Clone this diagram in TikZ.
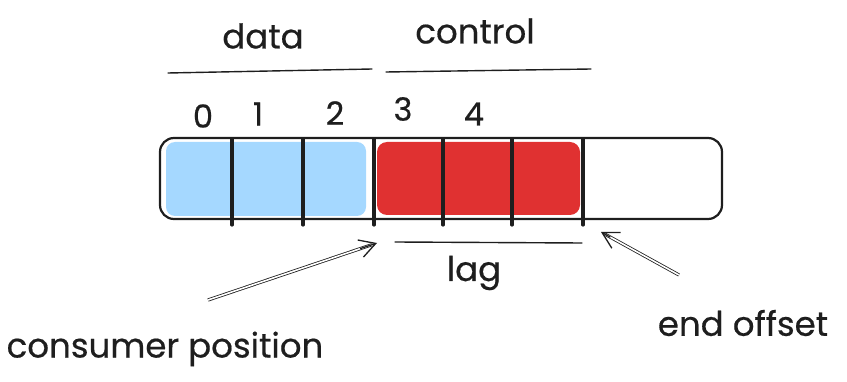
\documentclass[tikz,border=0pt]{standalone}
\usepackage{fontspec}
\setmainfont{Poppins}[FakeBold=0.5]
\usetikzlibrary{arrows.meta,calc}
\definecolor{ink}{HTML}{1E1E1E}
\definecolor{cblue}{HTML}{A5D8FF}
\definecolor{cred}{HTML}{E03131}
\tikzset{
  lbl/.style={font=\fontsize{34}{40}\selectfont, text=ink, inner sep=0pt},
  num/.style={font=\fontsize{32}{38}\selectfont, text=ink, inner sep=0pt},
  cell/.style={line width=3.2pt, draw=ink, line cap=round},
  rule/.style={line width=1.4pt, draw=ink, line cap=round},
  shaft/.style={double=white, double distance=1.6pt, line width=0.8pt, draw=ink},
  head/.style={draw=ink, line width=1.3pt, -{Straight Barb[length=16pt,width=18pt,line width=1.3pt]}}
}
\begin{document}
\begin{tikzpicture}[x=1pt,y=-1pt]
\useasboundingbox (0,0) rectangle (847,382);
% fills
\fill[cblue, rounded corners=9pt] (166,142) rectangle (366,216);
\fill[cred, rounded corners=10pt] (377,142) rectangle (580,215);
% outer box
\draw[ink, line width=2.2pt, rounded corners=14pt] (160,138) rectangle (722,219);
% cell separators
\foreach \x/\n in {232/a,303/b,374/c,443/d,512/e,583/f}{
  \coordinate (t\n) at (\x,139);
  \coordinate (b\n) at (\x,225);
  \draw[cell] (t\n) -- (b\n);
}
% indices
\node[num] (n0) at (203,116) {0};
\node[num] (n1) at (258,114) {1};
\node[num] (n2) at (335,113) {2};
\node[num] (n3) at (403,109) {3};
\node[num] (n4) at (474,114) {4};
% group labels
\node[lbl] (data) at (263,36) {data};
\node[lbl] (control) at (475,31) {control};
\coordinate (d1) at (168,73);
\coordinate (d2) at (372,69);
\coordinate (c1) at (386,72);
\coordinate (c2) at (591,69);
\draw[rule] (d1) -- (d2);
\draw[rule] (c1) -- (c2);
% lag
\coordinate (l1) at (395,242);
\coordinate (l2) at (582,243);
\draw[rule] (l1) -- (l2);
\node[lbl] (lag) at (474,273) {lag};
% consumer position
\node[lbl] (cons) at (165,349) {consumer position};
\coordinate (cs) at (208,300);
\coordinate (ce) at (377,243);
\draw[shaft] (cs) -- ($(cs)!0.97!(ce)$);
\draw[head] ($(cs)!0.9!(ce)$) -- (ce);
% end offset
\node[lbl] (endo) at (743,323) {end offset};
\coordinate (es) at (679,275);
\coordinate (ee) at (601,232);
\draw[shaft] (es) -- ($(es)!0.96!(ee)$);
\draw[head] ($(es)!0.88!(ee)$) -- (ee);
\end{tikzpicture}
\end{document}
